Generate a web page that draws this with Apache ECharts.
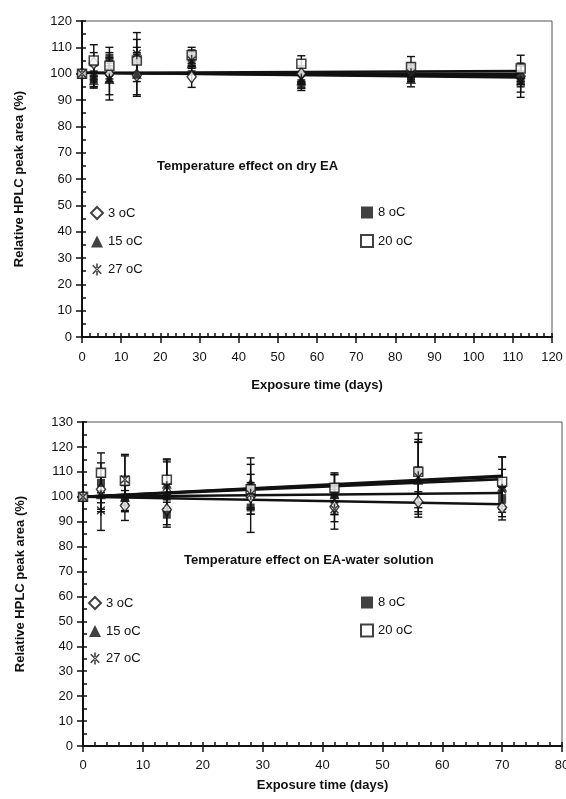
<!DOCTYPE html>
<html><head><meta charset="utf-8">
<script src="https://cdn.jsdelivr.net/npm/echarts@6/dist/echarts.min.js"></script>
<style>html,body{margin:0;padding:0;background:#fff}#c{width:566px;height:799px}</style>
</head><body><div id="c"></div>
<script>
// ---- Data: dry EA (top chart) ----
var daysDry = [0, 3, 7, 14, 28, 56, 84, 112];
var dry3  = [100, 104, 100, 99.4, 98.8, 100, 100.6, 99];
var dry8  = [100, 98, 106, 105, 106, 95.6, 101, 97];
var dry15 = [100, 97.5, 98, 100, 104, 97.5, 98, 100];
var dry20 = [100, 105, 103, 105, 107, 103.8, 102.5, 102];
var dry27 = [100, 99, 98, 107.6, 105, 98, 100, 97];
var dryErr3  = [1, 4, 3, 8, 4, 3, 3, 4];
var dryErr8  = [1, 3, 4, 5, 3, 2, 3, 4];
var dryErr15 = [1, 3, 8, 8, 3, 3, 3, 4];
var dryErr20 = [1, 6, 5, 8, 3, 3, 4, 5];
var dryErr27 = [1, 4, 6, 8, 3, 2, 3, 6];
var dryTrendStart = [100.3, 100.3, 100.3, 100.3, 100.3];
var dryTrendEnd   = [99, 99.5, 100, 101, 98.5];

// ---- Data: EA-water solution (bottom chart) ----
var daysWet = [0, 3, 7, 14, 28, 42, 56, 70];
var wet3  = [100, 103, 96.5, 94.8, 100, 96, 98, 95.7];
var wet8  = [100, 105.6, 99.5, 92.8, 95.7, 100.8, 110.6, 98.8];
var wet15 = [100, 101, 100, 105.2, 105.6, 101, 106.8, 104];
var wet20 = [100, 109.6, 106.4, 106.8, 103, 103.6, 110, 106];
var wet27 = [100, 94.5, 107, 104, 101, 95, 108, 103];
var wetErr3  = [1, 8, 6, 6, 5, 6, 4, 5];
var wetErr8  = [1, 8, 5, 5, 10, 8, 15, 5];
var wetErr15 = [1, 7, 6, 10, 10, 8, 15, 12];
var wetErr20 = [1, 8, 10, 8, 10, 6, 12, 10];
var wetErr27 = [1, 8, 10, 10, 8, 8, 15, 8];
var wetTrendStart = [100, 100, 100, 100, 100];
var wetTrendEnd   = [97, 101.5, 108, 107, 108.5];

var seriesNames = ['3 oC', '8 oC', '15 oC', '20 oC', '27 oC'];
var yTicksDry = {min: 0, max: 120, interval: 10};
var yTicksWet = {min: 0, max: 130, interval: 10};
var xTicksDry = {min: 0, max: 120, interval: 10};
var xTicksWet = {min: 0, max: 80, interval: 10};

// ---- Styles ----
var FONT = 'Liberation Sans, Arial, sans-serif';
var INK = '#111';
var starPath = 'path://M-1.3,-10L1.3,-10L1.3,10L-1.3,10Z' +
  'M6.15,7.99L7.99,6.15L-6.15,-7.99L-7.99,-6.15Z' +
  'M-7.99,6.15L-6.15,7.99L7.99,-6.15L6.15,-7.99Z';
var markers = [
  {symbol: 'diamond', symbolSize: [9, 12], itemStyle: {color: '#fff', borderColor: INK, borderWidth: 1.5}},
  {symbol: 'rect', symbolSize: 8, itemStyle: {color: INK}},
  {symbol: 'triangle', symbolSize: 10, itemStyle: {color: INK}},
  {symbol: 'rect', symbolSize: 9, itemStyle: {color: '#fff', borderColor: INK, borderWidth: 1.5}},
  {symbol: starPath, symbolSize: 11, symbolKeepAspect: true, itemStyle: {color: INK}}
];

function pairs(xs, ys) { return xs.map(function (x, i) { return [x, ys[i]]; }); }
function errData(xs, ys, es) { return xs.map(function (x, i) { return [x, ys[i] - es[i], ys[i] + es[i]]; }); }

function errRender(params, api) {
  var x = api.value(0), lo = api.value(1), hi = api.value(2);
  var a = api.coord([x, hi]), b = api.coord([x, lo]);
  var w = 4, st = {stroke: INK, lineWidth: 1.4};
  return {type: 'group', children: [
    {type: 'line', shape: {x1: a[0], y1: a[1], x2: b[0], y2: b[1]}, style: st},
    {type: 'line', shape: {x1: a[0] - w, y1: a[1], x2: a[0] + w, y2: a[1]}, style: st},
    {type: 'line', shape: {x1: b[0] - w, y1: b[1], x2: b[0] + w, y2: b[1]}, style: st}
  ]};
}

function mainX(grid, t, gap, margin) {
  return {type: 'value', gridIndex: grid, min: t.min, max: t.max, interval: t.interval,
    name: 'Exposure time (days)', nameLocation: 'middle', nameGap: gap,
    nameTextStyle: {fontFamily: FONT, fontSize: 13, fontWeight: 'bold', color: INK},
    axisLine: {show: true, onZero: false, lineStyle: {color: INK, width: 2}},
    axisTick: {show: true, inside: true, length: 4, lineStyle: {color: INK, width: 1.5}},
    minorTick: {show: true, splitNumber: 5, length: 4, lineStyle: {color: INK, width: 1.5}},
    axisLabel: {fontFamily: FONT, fontSize: 13, color: INK, margin: margin},
    splitLine: {show: false}};
}
function tickX(grid, t) {
  return {type: 'value', gridIndex: grid, min: t.min, max: t.max, interval: t.interval, position: 'bottom',
    axisLine: {show: false, onZero: false}, axisTick: {show: true, inside: false, length: 6, lineStyle: {color: INK, width: 1.5}},
    axisLabel: {show: false}, splitLine: {show: false}};
}
function mainY(grid, t, gap) {
  return {type: 'value', gridIndex: grid, min: t.min, max: t.max, interval: t.interval,
    name: 'Relative HPLC peak area (%)', nameLocation: 'middle', nameGap: gap,
    nameTextStyle: {fontFamily: FONT, fontSize: 13, fontWeight: 'bold', color: INK},
    axisLine: {show: true, onZero: false, lineStyle: {color: INK, width: 2}},
    axisTick: {show: true, inside: true, length: 4, lineStyle: {color: INK, width: 1.5}},
    minorTick: {show: true, splitNumber: 2, length: 4, lineStyle: {color: INK, width: 1.5}},
    axisLabel: {fontFamily: FONT, fontSize: 13, color: INK, margin: 10},
    splitLine: {show: false}};
}
function tickY(grid, t) {
  return {type: 'value', gridIndex: grid, min: t.min, max: t.max, interval: t.interval, position: 'left',
    axisLine: {show: false, onZero: false}, axisTick: {show: true, inside: false, length: 6, lineStyle: {color: INK, width: 1.5}},
    axisLabel: {show: false}, splitLine: {show: false}};
}

var series = [];
function addChart(xi, yi, days, vals, errs, tStart, tEnd) {
  var last = days[days.length - 1];
  vals.forEach(function (v, k) {
    series.push({type: 'line', name: 'trend' + xi + k, xAxisIndex: xi, yAxisIndex: yi,
      data: [[0, tStart[k]], [last, tEnd[k]]], showSymbol: false, symbol: 'none',
      lineStyle: {color: INK, width: 2.4}, z: 2, silent: true});
  });
  vals.forEach(function (v, k) {
    series.push({type: 'custom', name: 'err' + xi + k, xAxisIndex: xi, yAxisIndex: yi,
      data: errData(days, v, errs[k]), renderItem: errRender, z: 3, silent: true});
  });
  vals.forEach(function (v, k) {
    var m = markers[k];
    series.push(Object.assign({type: 'scatter', name: seriesNames[k], xAxisIndex: xi, yAxisIndex: yi,
      data: pairs(days, v), z: 5}, JSON.parse(JSON.stringify(m))));
  });
}
addChart(0, 0, daysDry, [dry3, dry8, dry15, dry20, dry27],
  [dryErr3, dryErr8, dryErr15, dryErr20, dryErr27], dryTrendStart, dryTrendEnd);
addChart(2, 2, daysWet, [wet3, wet8, wet15, wet20, wet27],
  [wetErr3, wetErr8, wetErr15, wetErr20, wetErr27], wetTrendStart, wetTrendEnd);

function legend(left, top, names, gap) {
  return {left: left, top: top, orient: 'vertical', itemGap: gap, itemWidth: 12, itemHeight: 12,
    padding: 0, selectedMode: false, data: names,
    textStyle: {fontFamily: FONT, fontSize: 13, color: INK}};
}

var chart = echarts.init(document.getElementById('c'), null, {renderer: 'canvas'});
chart.setOption({
  animation: false,
  backgroundColor: '#fff',
  grid: [
    {left: 82, top: 21, width: 470, height: 316, show: true, borderColor: '#555', borderWidth: 1, backgroundColor: 'transparent', outerBoundsMode: 'none', containLabel: false},
    {left: 83, top: 422, width: 479, height: 324, show: true, borderColor: '#555', borderWidth: 1, backgroundColor: 'transparent', outerBoundsMode: 'none', containLabel: false}
  ],
  xAxis: [mainX(0, xTicksDry, 42, 14), tickX(0, xTicksDry), mainX(1, xTicksWet, 33, 13), tickX(1, xTicksWet)],
  yAxis: [mainY(0, yTicksDry, 56), tickY(0, yTicksDry), mainY(1, yTicksWet, 56), tickY(1, yTicksWet)],
  legend: [
    legend(90, 206, ['3 oC', '15 oC', '27 oC'], 15),
    legend(360, 206, ['8 oC', '20 oC'], 15),
    legend(88, 596, ['3 oC', '15 oC', '27 oC'], 14.5),
    legend(360, 596, ['8 oC', '20 oC'], 14.5)
  ],
  graphic: [
    {type: 'text', left: 157, top: 160, style: {text: 'Temperature effect on dry EA', font: 'bold 13px ' + FONT, fill: INK}},
    {type: 'text', left: 184, top: 554, style: {text: 'Temperature effect on EA-water solution', font: 'bold 13px ' + FONT, fill: INK}}
  ],
  series: series
});
</script></body></html>
